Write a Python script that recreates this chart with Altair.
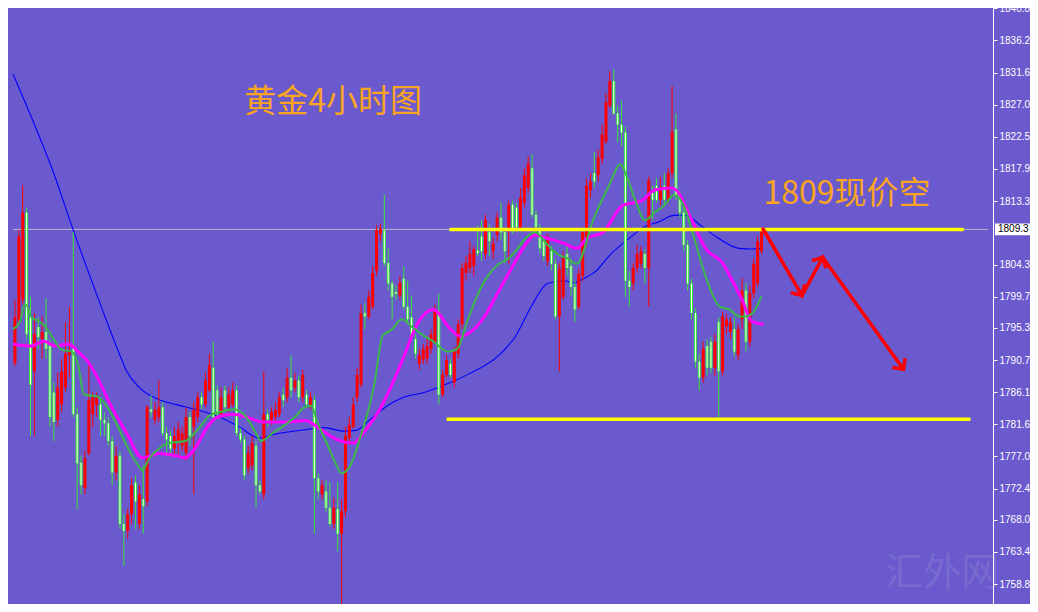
import altair as alt
import pandas as pd

# ---------------- candle data (4-hour gold), one entry per bar ----------------
opens = [
    1790.3, 1796.5, 1799.3, 1811.7, 1796.9, 1789.1, 1795.4, 1793.7, 1794.7, 1792.7,
    1786.1, 1782.2, 1784.4, 1786.8, 1791.4, 1792.3, 1783.0, 1776.1, 1772.5, 1777.5,
    1783.0, 1784.3, 1784.4, 1782.2, 1781.7, 1779.2, 1774.7, 1777.1, 1767.4, 1766.4,
    1768.8, 1773.3, 1767.4, 1770.9, 1770.6, 1783.7, 1782.2, 1782.6, 1784.0, 1780.3,
    1779.9, 1778.1, 1778.9, 1778.5, 1777.5, 1782.6, 1781.2, 1782.6, 1785.4, 1784.4,
    1786.4, 1789.6, 1786.4, 1783.0, 1786.4, 1784.0, 1784.4, 1786.4, 1780.3, 1779.4,
    1775.3, 1775.7, 1778.5, 1772.9, 1771.6, 1783.0, 1782.2, 1782.6, 1783.0, 1785.8,
    1785.4, 1788.2, 1786.8, 1787.8, 1785.4, 1785.8, 1784.3, 1785.0, 1773.9, 1771.6,
    1772.0, 1769.7, 1767.4, 1769.5, 1766.0, 1769.2, 1779.6, 1781.2, 1785.4, 1787.2,
    1797.4, 1796.9, 1798.3, 1803.4, 1808.7, 1809.2, 1804.5, 1801.6, 1800.4, 1799.9,
    1802.3, 1798.3, 1796.8, 1793.7, 1790.2, 1790.7, 1790.9, 1792.3, 1793.3, 1797.6,
    1785.8, 1788.6, 1790.2, 1787.5, 1791.6, 1795.8, 1803.1, 1803.8, 1804.1, 1806.3,
    1808.3, 1805.8, 1808.9, 1806.2, 1808.5, 1811.0, 1808.9, 1809.2, 1812.8, 1812.4,
    1809.6, 1813.1, 1815.2, 1818.0, 1811.4, 1809.4, 1807.6, 1804.8, 1806.2, 1804.4,
    1796.9, 1799.7, 1805.8, 1804.1, 1801.1, 1798.3, 1802.7, 1807.6, 1814.9, 1817.3,
    1817.0, 1819.3, 1821.8, 1826.9, 1830.4, 1825.8, 1824.2, 1823.1, 1802.0, 1801.6,
    1803.8, 1804.4, 1805.8, 1803.8, 1814.5, 1815.5, 1813.5, 1815.5, 1813.5, 1817.3,
    1823.5, 1814.1, 1811.7, 1807.1, 1801.6, 1797.4, 1790.5, 1788.2, 1792.7, 1793.3,
    1789.6, 1796.1, 1789.1, 1795.5, 1794.7, 1795.1, 1791.4, 1796.5, 1800.6, 1793.3,
    1800.2, 1801.6, 1806.2,
]
highs = [
    1799.3, 1809.2, 1815.6, 1812.4, 1799.7, 1797.4, 1796.8, 1796.9, 1799.5, 1793.7,
    1787.5, 1788.9, 1790.9, 1796.1, 1798.3, 1808.9, 1784.0, 1777.1, 1777.8, 1790.0,
    1786.1, 1786.1, 1785.4, 1783.3, 1782.6, 1779.9, 1778.5, 1777.8, 1768.8, 1769.5,
    1773.9, 1774.3, 1772.9, 1775.7, 1784.3, 1785.7, 1784.7, 1787.8, 1784.7, 1781.2,
    1780.6, 1781.2, 1781.9, 1781.2, 1784.0, 1783.3, 1784.7, 1786.1, 1786.1, 1788.9,
    1791.6, 1793.3, 1787.1, 1786.8, 1787.1, 1786.8, 1787.5, 1787.1, 1781.0, 1779.9,
    1778.5, 1779.9, 1779.2, 1773.6, 1789.1, 1783.7, 1784.0, 1784.7, 1786.1, 1786.8,
    1789.6, 1791.4, 1788.9, 1788.5, 1789.3, 1786.5, 1786.1, 1785.7, 1774.6, 1773.6,
    1773.6, 1773.3, 1771.1, 1773.3, 1770.9, 1781.2, 1782.6, 1785.4, 1789.6, 1798.6,
    1798.8, 1800.6, 1804.1, 1809.9, 1810.1, 1814.2, 1806.6, 1802.0, 1801.3, 1802.7,
    1804.1, 1802.0, 1799.9, 1794.4, 1792.3, 1793.0, 1793.7, 1795.1, 1798.6, 1800.2,
    1789.3, 1791.4, 1790.9, 1792.6, 1796.5, 1804.5, 1805.5, 1807.6, 1806.9, 1809.9,
    1810.6, 1811.4, 1810.1, 1808.1, 1811.7, 1813.1, 1809.6, 1813.4, 1813.4, 1813.1,
    1815.2, 1818.0, 1819.7, 1820.0, 1812.0, 1810.1, 1808.3, 1808.7, 1806.9, 1805.1,
    1804.5, 1806.2, 1806.9, 1805.1, 1802.0, 1803.7, 1809.6, 1816.6, 1817.3, 1820.3,
    1820.7, 1824.2, 1828.7, 1831.8, 1832.1, 1826.9, 1827.6, 1823.9, 1803.4, 1804.5,
    1807.1, 1806.9, 1806.5, 1816.8, 1815.5, 1816.6, 1816.8, 1817.3, 1818.0, 1829.7,
    1825.8, 1814.8, 1812.4, 1807.8, 1802.3, 1798.1, 1791.6, 1793.3, 1793.7, 1794.0,
    1794.4, 1796.8, 1797.6, 1797.2, 1796.8, 1796.8, 1795.8, 1802.4, 1801.6, 1801.3,
    1805.1, 1808.3, 1809.6,
]
lows = [
    1789.8, 1795.8, 1798.6, 1793.7, 1779.9, 1779.9, 1792.3, 1790.9, 1790.9, 1781.2,
    1779.2, 1781.2, 1783.3, 1786.1, 1788.2, 1782.6, 1769.5, 1771.6, 1771.6, 1777.1,
    1781.2, 1782.6, 1779.9, 1779.9, 1778.5, 1772.9, 1773.6, 1766.7, 1761.4, 1765.3,
    1767.4, 1766.7, 1766.7, 1766.0, 1769.9, 1782.6, 1781.5, 1781.9, 1779.9, 1777.1,
    1777.1, 1777.1, 1777.1, 1777.8, 1776.4, 1778.5, 1771.6, 1781.9, 1783.7, 1784.0,
    1786.1, 1781.9, 1782.6, 1782.6, 1783.3, 1783.3, 1784.0, 1779.9, 1778.9, 1773.6,
    1774.6, 1775.0, 1769.7, 1771.6, 1770.9, 1781.2, 1781.5, 1781.9, 1782.6, 1784.0,
    1784.7, 1785.4, 1786.1, 1784.7, 1784.7, 1784.0, 1783.7, 1766.0, 1770.9, 1770.9,
    1769.1, 1767.0, 1766.7, 1763.5, 1756.0, 1768.4, 1778.9, 1781.0, 1784.7, 1786.8,
    1795.1, 1796.5, 1797.9, 1802.7, 1807.6, 1804.1, 1800.6, 1796.5, 1799.3, 1799.3,
    1797.9, 1795.8, 1793.7, 1790.9, 1789.3, 1790.1, 1790.2, 1791.6, 1793.0, 1784.4,
    1785.4, 1788.2, 1788.2, 1786.8, 1790.9, 1795.1, 1802.0, 1803.1, 1802.7, 1805.5,
    1804.8, 1805.1, 1805.5, 1805.1, 1807.6, 1807.8, 1804.5, 1804.4, 1808.7, 1808.9,
    1809.2, 1812.4, 1814.5, 1811.0, 1808.9, 1805.9, 1804.8, 1804.1, 1803.4, 1796.5,
    1789.1, 1799.3, 1802.7, 1799.9, 1796.1, 1797.9, 1802.0, 1806.9, 1813.8, 1815.2,
    1816.1, 1818.6, 1821.4, 1826.5, 1825.6, 1821.7, 1821.1, 1799.7, 1798.3, 1800.6,
    1803.1, 1803.7, 1801.6, 1798.3, 1810.7, 1813.1, 1812.7, 1812.7, 1813.1, 1816.6,
    1813.5, 1811.0, 1806.2, 1800.6, 1796.5, 1789.6, 1786.4, 1787.5, 1788.5, 1788.9,
    1788.5, 1782.6, 1788.5, 1794.4, 1793.7, 1791.2, 1790.7, 1795.1, 1791.9, 1792.6,
    1799.5, 1801.1, 1805.8,
]
closes = [
    1796.8, 1808.3, 1811.7, 1794.4, 1787.2, 1794.4, 1794.0, 1794.7, 1792.3, 1782.6,
    1781.9, 1786.8, 1789.1, 1791.6, 1792.0, 1783.0, 1776.0, 1772.9, 1776.7, 1785.0,
    1785.4, 1785.4, 1782.2, 1781.7, 1779.2, 1774.7, 1777.1, 1767.4, 1766.4, 1768.8,
    1772.9, 1770.6, 1771.6, 1769.9, 1784.0, 1783.3, 1783.6, 1784.0, 1780.3, 1779.4,
    1778.1, 1779.9, 1780.8, 1780.3, 1782.6, 1779.9, 1783.6, 1785.4, 1784.4, 1787.8,
    1790.0, 1782.6, 1783.0, 1785.4, 1784.0, 1785.8, 1786.4, 1780.3, 1779.4, 1774.3,
    1777.5, 1778.9, 1772.9, 1772.0, 1783.0, 1782.2, 1783.3, 1783.6, 1785.4, 1785.0,
    1788.2, 1786.4, 1787.8, 1785.4, 1788.6, 1784.4, 1785.4, 1773.9, 1772.0, 1772.9,
    1769.7, 1767.4, 1769.7, 1766.0, 1769.2, 1779.9, 1781.5, 1784.4, 1788.6, 1797.4,
    1796.9, 1799.7, 1803.1, 1809.2, 1809.4, 1804.5, 1801.6, 1799.7, 1800.1, 1801.7,
    1798.3, 1796.5, 1794.1, 1791.6, 1791.4, 1792.3, 1792.7, 1794.4, 1797.9, 1785.8,
    1788.6, 1790.7, 1788.6, 1791.9, 1795.8, 1803.8, 1804.5, 1805.8, 1806.5, 1805.9,
    1806.2, 1810.7, 1807.6, 1807.3, 1811.0, 1808.9, 1806.2, 1812.8, 1809.4, 1809.6,
    1813.8, 1817.0, 1818.6, 1811.4, 1809.6, 1806.6, 1805.5, 1807.8, 1804.4, 1796.9,
    1803.7, 1805.2, 1803.8, 1801.1, 1797.9, 1803.0, 1808.9, 1815.5, 1816.1, 1816.1,
    1819.6, 1822.8, 1827.4, 1830.4, 1825.8, 1824.2, 1823.1, 1802.0, 1801.1, 1803.8,
    1805.8, 1806.2, 1803.8, 1816.3, 1813.5, 1813.5, 1814.9, 1813.5, 1817.3, 1823.2,
    1814.1, 1811.7, 1807.1, 1801.6, 1797.4, 1790.5, 1788.2, 1792.3, 1789.6, 1789.6,
    1793.3, 1789.1, 1796.9, 1796.5, 1796.1, 1791.9, 1795.1, 1800.6, 1793.3, 1800.2,
    1804.4, 1807.6, 1809.4,
]

# ---------------- moving averages (bar index, price) ----------------
ma_blue_x = [-0.5, 4.5, 9.5, 15.25, 22, 27, 28.75, 32, 37, 41.25, 46.25, 51.25, 57.75, 62.75, 66.25,
             74.5, 79.5, 84.5, 87.75, 91.25, 95.25, 99.5, 105.25, 112, 116.25, 124.5, 128.75, 132.75,
             137, 141.25, 143.75, 146.25, 149.5, 152.75, 157, 162.75, 165.25, 169.5, 172.5, 176.25,
             180.25, 186.25, 189.5, 192]
ma_blue_y = [1831.4, 1824.9, 1818.0, 1808.8, 1798.6, 1791.4, 1789.1, 1786.8, 1785.1, 1784.4, 1783.7,
             1782.9, 1781.2, 1779.6, 1780.1, 1780.8, 1781.1, 1780.6, 1780.7, 1782.2, 1784.0, 1785.3,
             1786.1, 1787.5, 1788.6, 1791.4, 1794.1, 1798.3, 1801.6, 1802.0, 1801.7, 1802.3, 1803.4,
             1805.5, 1807.6, 1809.9, 1810.3, 1811.3, 1811.3, 1809.9, 1808.3, 1806.6, 1806.5, 1806.6]

ma_pink_x = [-0.5, 4, 7.5, 10.25, 13.75, 16.25, 18.75, 21.25, 24.5, 28.75, 32.75, 37, 41.25, 43.75,
             46.25, 49.5, 52, 56.25, 59.5, 63.75, 70.25, 74.5, 78.75, 82.75, 87, 90.25, 93.75, 97.75,
             99.5, 103.75, 107.5, 112, 114.5, 120.25, 124.5, 127.75, 131.25, 133.75, 137, 141.25,
             144.5, 147, 151.25, 156.25, 161.25, 164.5, 168.75, 170.25, 173.75, 177.75, 182, 184.5,
             187, 189.5, 192.5]
ma_pink_y = [1793.0, 1792.7, 1793.4, 1792.7, 1793.0, 1791.9, 1790.5, 1788.2, 1784.4, 1780.3, 1776.8,
             1777.4, 1777.1, 1776.8, 1778.1, 1781.2, 1782.6, 1783.0, 1782.6, 1781.9, 1781.9, 1782.1,
             1780.8, 1779.4, 1778.9, 1780.8, 1783.6, 1788.2, 1790.5, 1796.1, 1797.9, 1795.1, 1794.1,
             1796.5, 1800.6, 1803.8, 1807.1, 1808.5, 1808.0, 1807.3, 1806.6, 1808.0, 1808.9, 1812.7,
             1813.4, 1814.9, 1815.2, 1814.8, 1811.0, 1806.5, 1804.5, 1802.0, 1799.3, 1796.2, 1795.8]

ma_green_x = [-0.5, 1.25, 2.5, 3.25, 4, 6.25, 7.75, 9.5, 12, 14.5, 16.25, 17.75, 21.25, 23.75, 26.25,
              28.75, 31.25, 32.75, 34.5, 37, 39.5, 43.75, 47, 50.25, 52.75, 56.25, 59.5, 62, 63.25,
              66.25, 68.75, 72, 74.5, 76.25, 77.75, 80.25, 82.75, 84, 86.25, 88.75, 91.25, 92.5, 94.5,
              97, 99.5, 102, 104.5, 107.75, 111.25, 113.75, 116.25, 118.75, 121.25, 124.5, 127,
              128.75, 131.25, 133.75, 137, 139.5, 142, 144.5, 148.75, 152.75, 155.75, 157, 159.5,
              162, 164.5, 167, 169.5, 172, 174.5, 177.75, 181.25, 183.75, 186.25, 187.75, 190, 192]
ma_green_y = [1795.1, 1796.1, 1798.6, 1798.3, 1796.9, 1796.2, 1795.5, 1794.1, 1792.2, 1791.9, 1790.0,
              1785.8, 1785.5, 1784.0, 1781.5, 1778.5, 1776.1, 1775.0, 1776.7, 1778.1, 1778.9, 1779.2,
              1780.8, 1782.9, 1783.3, 1783.7, 1782.6, 1780.3, 1779.2, 1780.3, 1781.2, 1782.6, 1784.0,
              1784.2, 1781.9, 1778.8, 1775.7, 1774.6, 1775.7, 1779.6, 1784.4, 1787.5, 1794.1, 1795.1,
              1796.5, 1795.5, 1794.4, 1793.3, 1791.9, 1792.3, 1796.1, 1799.7, 1802.4, 1804.4, 1805.2,
              1806.2, 1808.0, 1808.9, 1807.1, 1805.8, 1805.2, 1804.4, 1810.7, 1815.5, 1818.6, 1817.3,
              1813.5, 1810.6, 1811.7, 1812.7, 1814.2, 1812.7, 1808.4, 1802.4, 1798.3, 1797.9, 1796.9,
              1796.9, 1797.6, 1799.8]

# ---------------- annotations ----------------
current_price = 1809.3
level_start = [111.75, 111.0]
level_end = [244.0, 245.75]
level_price = [1809.3, 1782.3]
arrow_x = [192.25, 202.4, 207.75, 228.5]
arrow_y = [1809.5, 1799.9, 1805.3, 1789.4]
arrow_head_angle = [149, 29, 144]
label_texts = ["黄金4小时图", "1809现价空"]
label_x = [59.0, 192.5]
label_y = [1827.4, 1814.3]
watermark = "汇外网"
tick_values = [1840.8, 1836.2, 1831.6, 1827.0, 1822.5, 1817.9, 1813.3, 1804.3, 1799.7, 1795.3,
               1790.7, 1786.1, 1781.6, 1777.0, 1772.4, 1768.0, 1763.4, 1758.8]

# ---------------- styling ----------------
W, H = 985, 596
BG = "#6a5acd"
RED = "#ff0000"
CGREEN = "#39e639"
ORANGE = "#f9a423"

xs = alt.Scale(domain=[-0.5, 250.25], nice=False, zero=False)
ys = alt.Scale(domain=[1756.0, 1840.8], nice=False, zero=False)
yaxis = alt.Axis(orient="right", values=tick_values, format=".1f", grid=False,
                 domainColor="#ffffff", domainWidth=1, tickColor="#ffffff", tickSize=4, tickWidth=1,
                 labelColor="#ffffff", labelFont="Liberation Sans", labelFontSize=10,
                 labelPadding=2, labelOverlap=False, title="")


def X(f):
    return alt.X(f, type="quantitative", scale=xs, axis=None)


def Y(f):
    return alt.Y(f, type="quantitative", scale=ys, axis=yaxis)


candles = pd.DataFrame({"i": list(range(len(opens))), "open": opens, "high": highs,
                        "low": lows, "close": closes})
candles["dir"] = ["up" if c >= o else "down" for o, c in zip(opens, closes)]
candles["top"] = candles[["open", "close"]].max(axis=1)
candles["bot"] = candles[["open", "close"]].min(axis=1)
downs = candles[candles["dir"] == "down"]

color_dir = alt.Color("dir:N", scale=alt.Scale(domain=["up", "down"], range=[RED, CGREEN]), legend=None)

gray_line = alt.Chart(pd.DataFrame({"a": [-0.5], "b": [250.25], "p": [current_price]})).mark_rule(
    color="#b8b8c8", strokeWidth=1).encode(x=X("a"), x2="b", y=Y("p"))

blue = alt.Chart(pd.DataFrame({"x": ma_blue_x, "y": ma_blue_y})).mark_line(
    color="#0000ff", strokeWidth=1.1, interpolate="monotone").encode(x=X("x"), y=Y("y"))

wicks = alt.Chart(candles).mark_rule(strokeWidth=1).encode(x=X("i"), y=Y("low"), y2="high", color=color_dir)
bodies = alt.Chart(candles).mark_bar(size=3, minBandSize=1).encode(x=X("i"), y=Y("bot"), y2="top", color=color_dir)
inner = alt.Chart(downs).mark_bar(size=1, color="#f4fff4").encode(x=X("i"), y=Y("bot"), y2="top")

pink = alt.Chart(pd.DataFrame({"x": ma_pink_x, "y": ma_pink_y})).mark_line(
    color="#ff00ff", strokeWidth=3, interpolate="monotone").encode(x=X("x"), y=Y("y"))
green = alt.Chart(pd.DataFrame({"x": ma_green_x, "y": ma_green_y})).mark_line(
    color="#3cb84a", strokeWidth=2, interpolate="monotone").encode(x=X("x"), y=Y("y"))

levels = alt.Chart(pd.DataFrame({"a": level_start, "b": level_end, "p": level_price})).mark_rule(
    color="#ffff00", strokeWidth=3.5).encode(x=X("a"), x2="b", y=Y("p"))

arrow_df = pd.DataFrame({"x": arrow_x, "y": arrow_y, "k": list(range(len(arrow_x)))})
arrow = alt.Chart(arrow_df).mark_line(color=RED, strokeWidth=3.5, strokeJoin="miter").encode(
    x=X("x"), y=Y("y"), order="k:Q")
heads = alt.Chart(pd.DataFrame({"x": arrow_x[1:], "y": arrow_y[1:], "ang": arrow_head_angle})).mark_point(
    shape="M -0.75 0.75 L 0 0 L 0.75 0.75", filled=False, stroke=RED, strokeWidth=3.5,
    size=450, opacity=1).encode(x=X("x"), y=Y("y"), angle=alt.Angle("ang:Q", scale=None))

labels = alt.Chart(pd.DataFrame({"x": label_x, "y": label_y, "t": label_texts})).mark_text(
    align="left", baseline="middle", font="Noto Sans CJK SC", fontSize=32, color=ORANGE).encode(
    x=X("x"), y=Y("y"), text="t:N")

wm = alt.Chart(pd.DataFrame({"x": [238.5], "y": [1760.3], "t": [watermark]})).mark_text(
    align="center", baseline="middle", font="Noto Sans CJK SC", fontSize=38, color="#c8c8d8",
    opacity=0.15).encode(x=X("x"), y=Y("y"), text="t:N")

box_df = pd.DataFrame({"p": [current_price], "hi": [current_price + 0.85], "lo": [current_price - 0.85],
                       "t": ["1809.3"]})
box = alt.Chart(box_df).mark_rect(color="#ffffff").encode(
    x=alt.value(W + 2), x2=alt.value(W + 40), y=Y("hi"), y2="lo")
box_text = alt.Chart(box_df).mark_text(align="left", baseline="middle", font="Liberation Sans",
                                       fontSize=10, color="#000000").encode(
    x=alt.value(W + 5), y=Y("p"), text="t:N")

chart = alt.layer(
    gray_line, blue, wicks, bodies, inner, pink, green, levels, arrow, heads, labels, wm, box, box_text
).properties(
    width=W, height=H,
    padding={"left": 0, "top": 0, "right": 37, "bottom": 0},
    autosize=alt.AutoSizeParams(type="none"),
    background=BG,
).configure_view(strokeWidth=0)

chart.save("out.html", embed_options={"renderer": "svg", "actions": False})
